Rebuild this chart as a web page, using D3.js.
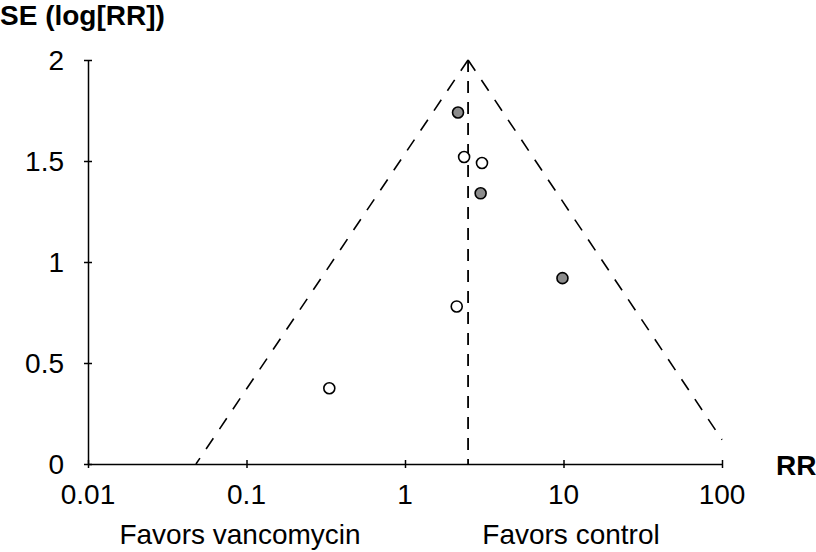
<!DOCTYPE html>
<html lang="en">
<head>
<meta charset="UTF-8">
<title>Funnel plot</title>
<script src="https://cdn.jsdelivr.net/npm/d3@7"></script>
<style>
  body{ margin:0; background:#fff; }
  svg text{ font-family:"Liberation Sans", Arial, Helvetica, sans-serif; fill:#000; }
  .axis path, .axis line{ stroke:#000; stroke-width:1.5px; }
</style>
</head>
<body>
<div id="root"></div>
<script>
  // study points
  const studyRR = [2.16, 2.36, 3.06, 3.0, 9.85, 2.12, 0.333]
  const studySE = [1.74, 1.52, 1.49, 1.34, 0.92, 0.78, 0.375]
  const studyFilled = [true, false, false, true, true, false, false]

  // funnel (left end, apex, right end) and the pooled line
  const funnelRR = [0.048, 2.5, 100]
  const funnelSE = [0, 2, 0.12]
  const pooledRR = 2.5

  const xTicks = [0.01, 0.1, 1, 10, 100]
  const yTicks = [0, 0.5, 1, 1.5, 2]
  const xTickLabels = ["0.01", "0.1", "1", "10", "100"]
  const yTickLabels = ["0", "0.5", "1", "1.5", "2"]

  let width = 816, height = 552
  let plotLeft = 88, plotRight = 722, plotTop = 60, plotBottom = 464

  let svg = d3.select("#root").append("svg").attr("width", width).attr("height", height)

  let x = d3.scaleLog().domain([0.01, 100]).range([plotLeft, plotRight])
  let y = d3.scaleLinear().domain([0, 2]).range([plotBottom, plotTop])

  // axes, ticks cross the line
  let xAxis = d3.axisBottom(x).tickValues(xTicks).tickSizeInner(4).tickSizeOuter(0).tickFormat("")
  let gx = svg.append("g").attr("class", "axis").attr("transform", "translate(0," + plotBottom + ")").call(xAxis)
  gx.selectAll(".tick line").attr("y1", -4)

  let yAxis = d3.axisLeft(y).tickValues(yTicks).tickSizeInner(4).tickSizeOuter(0).tickFormat("")
  let gy = svg.append("g").attr("class", "axis").attr("transform", "translate(" + plotLeft + ",0)").call(yAxis)
  gy.selectAll(".tick line").attr("x1", 4)

  svg.selectAll(".xlab").data(xTicks).enter().append("text")
    .attr("x", d => x(d)).attr("y", plotBottom + 40)
    .attr("text-anchor", "middle").style("font-size", "28px")
    .text((d, i) => xTickLabels[i])

  svg.selectAll(".ylab").data(yTicks).enter().append("text")
    .attr("x", 64).attr("y", d => y(d) + 10)
    .attr("text-anchor", "end").style("font-size", "28px")
    .text((d, i) => yTickLabels[i])

  // funnel, drawn outward from the apex
  let apex = [x(funnelRR[1]), y(funnelSE[1])]
  ;[0, 2].forEach(i => {
    svg.append("line")
      .attr("x1", apex[0]).attr("y1", apex[1])
      .attr("x2", x(funnelRR[i])).attr("y2", y(funnelSE[i]))
      .attr("stroke", "#000").attr("stroke-width", 1.6).attr("stroke-dasharray", "13,11")
  })
  svg.append("line")
    .attr("x1", x(pooledRR)).attr("y1", y(2))
    .attr("x2", x(pooledRR)).attr("y2", y(0))
    .attr("stroke", "#000").attr("stroke-width", 1.8).attr("stroke-dasharray", "12,9")

  // studies
  svg.selectAll("circle.study").data(studyRR).enter().append("circle")
    .attr("class", "study")
    .attr("cx", d => x(d))
    .attr("cy", (d, i) => y(studySE[i]))
    .attr("r", 5.5)
    .attr("fill", (d, i) => studyFilled[i] ? "#8c8c8c" : "#fff")
    .attr("stroke", "#000").attr("stroke-width", 1.6)

  // titles
  svg.append("text").attr("x", 0).attr("y", 25)
    .style("font-size", "28px").style("font-weight", "bold").text("SE (log[RR])")
  svg.append("text").attr("x", 776).attr("y", 475)
    .style("font-size", "28px").style("font-weight", "bold").text("RR")
  svg.append("text").attr("x", 240).attr("y", 544).attr("text-anchor", "middle")
    .style("font-size", "28px").text("Favors vancomycin")
  svg.append("text").attr("x", 571).attr("y", 544).attr("text-anchor", "middle")
    .style("font-size", "28px").text("Favors control")
</script>
</body>
</html>
